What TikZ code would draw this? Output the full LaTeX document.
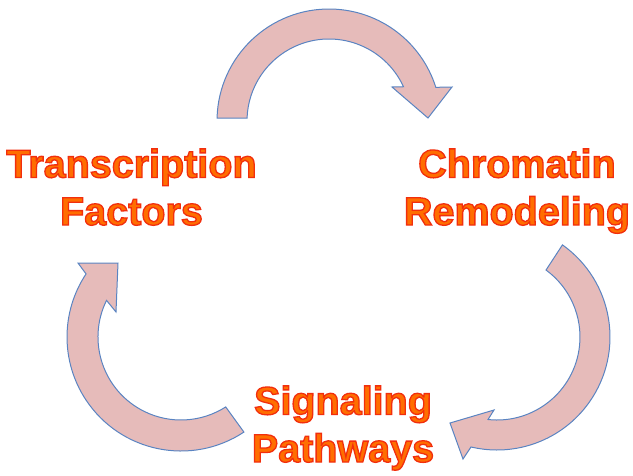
\documentclass[tikz,border=0pt]{standalone}
\usepackage{fontspec}
\setmainfont{Liberation Sans}
\usetikzlibrary{calc}
\definecolor{arrowfill}{RGB}{230,187,186}
\definecolor{arrowline}{RGB}{90,132,194}
\definecolor{txtfill}{RGB}{255,110,0}
\newcommand{\outlined}[1]{\special{pdf:literal direct q 2 Tr 1.3 w 0.95 0.18 0.05 RG}#1\special{pdf:literal direct Q}}
\begin{document}
\begin{tikzpicture}[x=1pt,y=1pt,yscale=-1,
  cyclearrow/.style={fill=arrowfill,draw=arrowline,line width=1pt,line join=miter},
  label/.style={anchor=base,inner sep=0pt,align=center,text=txtfill,
    font=\fontsize{39.5}{47.5}\selectfont\bfseries}]
\useasboundingbox (0,0) rectangle (633,475);
\coordinate (c1) at (329,121);
\coordinate (c2) at (497,337);
\coordinate (c3) at (181,337);
% top arrow
\path[cyclearrow] ($(c1)+(181.5:112)$) arc[start angle=181.5,end angle=342.5,radius=112]
  -- (452,87) -- (428,118) -- (392,87) -- ($(c1)+(335.3:82)$)
  arc[start angle=335.3,end angle=182.1,radius=82] -- cycle;
% right arrow
\path[cyclearrow] ($(c2)+(-54.6:113)$) arc[start angle=-54.6,end angle=103.3,radius=113]
  -- (463,459) -- (450,423) -- (494,410) -- ($(c2)+(96.2:83)$)
  arc[start angle=96.2,end angle=-53.8,radius=83] -- cycle;
% left arrow
\path[cyclearrow] ($(c3)+(56.5:114)$) arc[start angle=56.5,end angle=213.6,radius=114]
  -- (78,263) -- (118,263) -- (116,312) -- ($(c3)+(206.2:83)$)
  arc[start angle=206.2,end angle=57.4,radius=83] -- cycle;
% labels (anchor = baseline of the last line)
\node[label] (tf) at (131.5,225) {\outlined{Transcription}\\\outlined{Factors}};
\node[label] (cr) at (517,225) {\outlined{Chromatin}\\\outlined{Remodeling}};
\node[label] (sp) at (343,462) {\outlined{Signaling}\\\outlined{Pathways}};
\end{tikzpicture}
\end{document}
